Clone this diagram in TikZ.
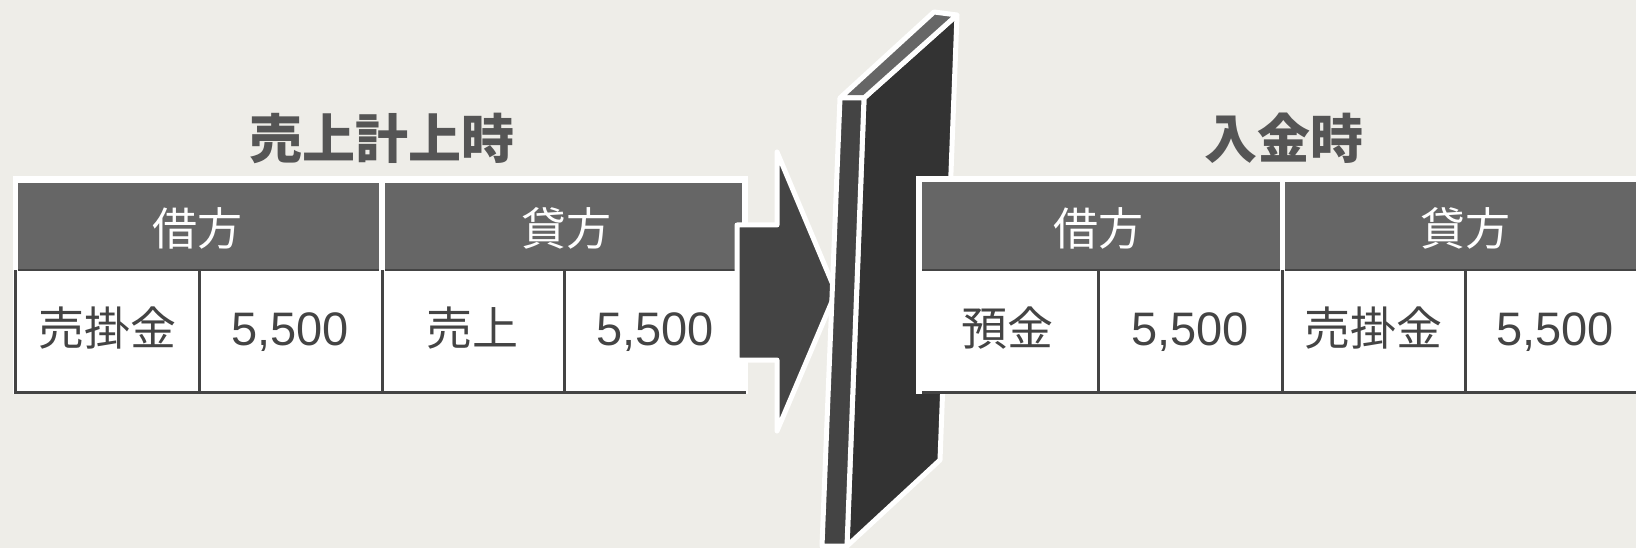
\documentclass[tikz,border=0pt]{standalone}
\usepackage{fontspec}
\setmainfont{Liberation Sans}
\newfontfamily\jpfont{Noto Sans CJK JP}
\definecolor{bggray}{HTML}{EEEDE8}
\definecolor{hdrgray}{HTML}{666666}
\definecolor{inkgray}{HTML}{444444}
\definecolor{titlegray}{HTML}{555555}
\definecolor{sidegray}{HTML}{333333}

\begin{document}
\begin{tikzpicture}[x=1pt,y=-1pt,
	cellline/.style={draw=inkgray,line width=3pt},
	hdrtext/.style={anchor=base,text=white,font=\jpfont\fontsize{45}{52}\selectfont},
	bodytext/.style={anchor=base,text=inkgray,font=\jpfont\fontsize{46}{54}\selectfont},
	numtext/.style={anchor=base,text=inkgray,font=\fontsize{47}{54}\selectfont},
	titletext/.style={anchor=base,text=titlegray,font=\jpfont\bfseries\fontsize{53}{60}\selectfont},
	solid3d/.style={draw=white,line width=5pt,line join=round}]
	\useasboundingbox (0,0) rectangle (1636,548);
	\clip (0,0) rectangle (1636,548);
	\fill[bggray] (0,0) rectangle (1636,548);
	% left table
	\fill[white] (13,176) rectangle (748,394);
	\fill[hdrgray] (18,183) rectangle (379,269);
	\fill[hdrgray] (385,183) rectangle (742,269);
	\draw[inkgray,line width=2pt] (18,270) -- (379,270);
	\draw[inkgray,line width=2pt] (385,270) -- (742,270);
	\foreach \x in {15.5,199,382,564}
		\draw[cellline] (\x,270) -- (\x,392);
	\draw[cellline] (14,392) -- (746,392);
	% arrow
	\draw[solid3d,fill=inkgray] (737,225) -- (777,225) -- (777,152) -- (836,292)
		-- (777,431) -- (777,360) -- (737,360) -- cycle;
	% panel
	\draw[solid3d,fill=sidegray] (864,98) -- (957,15) -- (940,460) -- (847,546) -- cycle;
	\draw[solid3d,fill=hdrgray]  (840,98) -- (934,12) -- (957,15) -- (864,98) -- cycle;
	\draw[solid3d,fill=inkgray]  (840,98) -- (864,98) -- (847,546) -- (822,546) -- cycle;
	% right table
	\fill[white] (916,176) rectangle (1660,394);
	\fill[hdrgray] (922,182) rectangle (1280,270);
	\fill[hdrgray] (1285,182) rectangle (1660,270);
	\draw[inkgray,line width=2pt] (922,270) -- (1280,270);
	\draw[inkgray,line width=2pt] (1285,270) -- (1660,270);
	\foreach \x in {1098,1282,1465}
		\draw[cellline] (\x,270) -- (\x,392);
	\draw[cellline] (922,392) -- (1660,392);
	% titles
	\node[titletext] (salettl) at (382,159) {売上計上時};
	\node[titletext] (payttl) at (1284,159) {入金時};
	% texts, left
	\node[hdrtext] (saledr) at (197,245) {借方};
	\node[hdrtext] (salecr) at (566,245) {貸方};
	\node[bodytext] (saledracc) at (107,345) {売掛金};
	\node[numtext] (saledramt) at (290,345) {5,500};
	\node[bodytext] (salecracc) at (472,345) {売上};
	\node[numtext] (salecramt) at (655,345) {5,500};
	% texts, right
	\node[hdrtext] (paydr) at (1098,245) {借方};
	\node[hdrtext] (paycr) at (1465,245) {貸方};
	\node[bodytext] (paydracc) at (1007,345) {預金};
	\node[numtext] (paydramt) at (1190,345) {5,500};
	\node[bodytext] (paycracc) at (1373,345) {売掛金};
	\node[numtext] (paycramt) at (1555,345) {5,500};
\end{tikzpicture}
\end{document}
